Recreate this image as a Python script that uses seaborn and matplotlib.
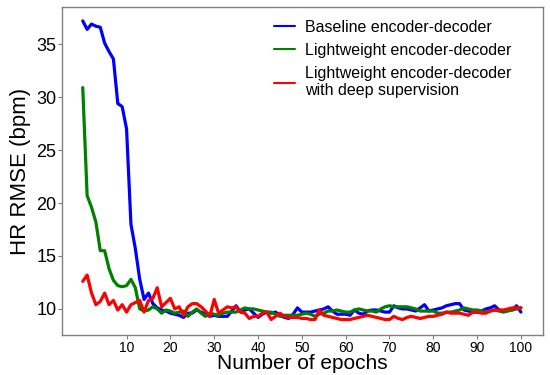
import numpy as np
import pandas as pd
import matplotlib
matplotlib.use("Agg")
import matplotlib.pyplot as plt
import seaborn as sns

epochs = list(range(0, 101))

baseline = [37.2, 36.4, 36.9, 36.7, 36.6, 35.1, 34.3, 33.6, 29.4, 29.1,
            27.0, 18.0, 15.7, 12.8, 10.9, 11.5, 10.5, 10.1, 9.9, 9.8,
            9.6, 9.5, 9.4, 9.2, 9.6, 9.6, 9.9, 9.7, 9.5, 9.3,
            9.4, 9.3, 9.3, 9.3, 9.8, 10.3, 9.7, 9.9, 10.0, 9.6,
            9.2, 9.5, 9.7, 9.6, 9.7, 9.4, 9.2, 9.1, 9.5, 10.1,
            9.7, 9.7, 9.7, 9.8, 9.9, 10.0, 10.2, 9.8, 9.5, 9.5,
            9.5, 9.4, 9.9, 9.6, 9.5, 9.8, 9.9, 9.9, 9.8, 9.7,
            9.7, 10.3, 10.1, 10.0, 10.0, 9.9, 9.8, 10.1, 10.4, 9.8,
            9.9, 10.0, 10.1, 10.3, 10.4, 10.5, 10.5, 9.9, 9.8, 9.7,
            9.7, 9.8, 10.0, 10.1, 10.3, 9.9, 9.8, 9.9, 9.9, 10.3,
            9.7]

lightweight = [30.9, 20.7, 19.6, 18.2, 15.5, 15.5, 13.8, 12.7, 12.2, 12.1,
               12.2, 12.8, 12.0, 10.0, 9.8, 9.9, 10.2, 10.0, 9.6, 9.9,
               9.8, 9.6, 9.7, 9.8, 9.3, 9.7, 10.0, 9.6, 9.3, 9.6,
               9.5, 9.4, 9.6, 9.7, 9.7, 9.7, 9.9, 10.1, 10.0, 10.0,
               9.9, 9.8, 9.7, 9.7, 9.5, 9.3, 9.4, 9.4, 9.4, 9.4,
               9.5, 9.6, 9.5, 9.3, 9.5, 9.6, 9.8, 9.8, 9.9, 9.8,
               9.7, 9.7, 9.9, 10.0, 9.9, 9.8, 9.8, 9.7, 10.0, 10.2,
               10.3, 10.2, 10.2, 10.2, 10.2, 10.1, 10.0, 9.8, 9.8, 9.8,
               9.8, 9.6, 9.6, 9.7, 9.7, 9.8, 9.9, 10.1, 10.0, 9.9,
               9.9, 9.8, 9.7, 9.8, 9.9, 9.8, 9.7, 9.8, 9.9, 10.0,
               10.1]

deep_sup = [12.6, 13.2, 11.5, 10.4, 10.7, 11.5, 10.4, 10.8, 9.9, 10.4,
            9.7, 10.4, 10.6, 10.8, 9.7, 10.8, 11.0, 12.0, 10.2, 10.6,
            11.0, 10.0, 10.2, 9.4, 10.2, 10.5, 10.5, 10.2, 9.8, 9.3,
            10.9, 9.6, 9.9, 10.2, 10.1, 10.2, 9.7, 9.6, 9.1, 9.3,
            9.3, 9.6, 9.7, 9.0, 9.3, 9.6, 9.3, 9.2, 9.2, 9.2,
            9.1, 9.1, 9.0, 9.0, 9.9, 9.4, 9.3, 9.2, 9.1, 9.0,
            9.0, 9.0, 9.1, 9.2, 9.3, 9.4, 9.3, 9.2, 9.1, 9.0,
            9.0, 9.3, 9.1, 9.0, 9.2, 9.3, 9.2, 9.1, 9.2, 9.3,
            9.3, 9.4, 9.5, 9.7, 9.6, 9.6, 9.6, 9.5, 9.4, 9.7,
            9.7, 9.6, 9.6, 9.8, 9.9, 9.9, 9.9, 10.0, 10.1, 10.1,
            10.1]

labels = ["Baseline encoder-decoder",
          "Lightweight encoder-decoder",
          "Lightweight encoder-decoder\nwith deep supervision"]
colors = ["#0000ff", "#008000", "#ff0000"]

df = pd.concat([
    pd.DataFrame({"epoch": epochs, "rmse": vals, "model": lab})
    for vals, lab in zip([baseline, lightweight, deep_sup], labels)
])

sns.set_style("ticks")
plt.rcParams["font.family"] = ["Liberation Sans", "DejaVu Sans"]
plt.rcParams["text.color"] = "black"
plt.rcParams["axes.labelcolor"] = "black"
plt.rcParams["xtick.labelcolor"] = "black"
plt.rcParams["ytick.labelcolor"] = "black"

fig, ax = plt.subplots(figsize=(5.5, 3.75), dpi=100)
fig.subplots_adjust(left=0.113, right=0.987, top=0.981, bottom=0.107)

sns.lineplot(data=df, x="epoch", y="rmse", hue="model", palette=colors,
             hue_order=labels, linewidth=2.3, ax=ax)

ax.set_ylim(7.55, 38.5)
ax.set_xlim(-4.7, 105)
ax.set_xticks(range(10, 101, 10))
ax.set_yticks(range(10, 36, 5))
ax.tick_params(axis="x", labelsize=10, length=3, color="#808080", pad=1.5)
ax.tick_params(axis="y", labelsize=13, length=3, color="#808080", pad=1)
ax.set_xlabel("Number of epochs", fontsize=15, labelpad=-1)
ax.set_ylabel("HR RMSE (bpm)", fontsize=16, labelpad=4)
for sp in ax.spines.values():
    sp.set_color("#808080")
    sp.set_linewidth(1.0)

leg = ax.legend(loc="upper right", frameon=False, fontsize=11.5,
                handlelength=1.3, handletextpad=0.6, labelspacing=0.5,
                borderaxespad=0, bbox_to_anchor=(0.947, 0.98))
for line in leg.get_lines():
    line.set_linewidth(1.5)

fig.savefig("out.png", dpi=100)
